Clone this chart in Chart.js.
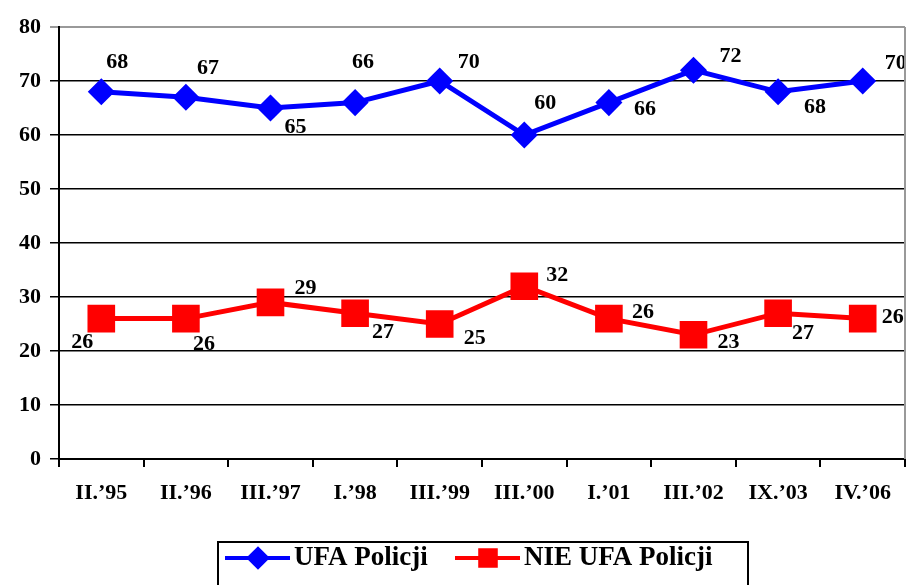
<!DOCTYPE html>
<html>
<head>
<meta charset="utf-8">
<script src="https://cdn.jsdelivr.net/npm/chart.js@4"></script>
<style>
    html, body { margin: 0; background: #fff; overflow: hidden; }
    #wrap { width: 909px; height: 585px; position: relative; }
    canvas { display: block; }
</style>
</head>
<body>
<div id="wrap"><canvas id="myChart"></canvas></div>
<script>
// Data

const periods = ["II.’95", "II.’96", "III.’97", "I.’98", "III.’99", "III.’00", "I.’01", "III.’02", "IX.’03", "IV.’06"];
const seriesNames = ["UFA Policji", "NIE UFA Policji"];
const ufa = [68, 67, 65, 66, 70, 60, 66, 72, 68, 70];
const nieUfa = [26, 26, 29, 27, 25, 32, 26, 23, 27, 26];
const yTicks = [0, 10, 20, 30, 40, 50, 60, 70, 80];

// label offsets from each point (pixels), like the hand-placed labels in the original
const ufaLabelOffsets = [[16, -29], [22, -29], [25, 19], [8, -40], [29, -19], [21, -32], [36, 7], [37, -14], [37, 16], [33, -18]];
const nieLabelOffsets = [[-19, 24], [18, 26], [35, -14], [28, 19], [35, 14], [33, -11], [34, -6], [35, 8], [25, 20], [30, -1]];

const serif = "'Liberation Serif', 'Times New Roman', serif";

// Plugins

const pointLabels = {
    id: "pointLabels",
    afterDatasetsDraw(chart) {
        const ctx = chart.ctx;
        ctx.save();
        ctx.font = "bold 22px " + serif;
        ctx.fillStyle = "#000";
        ctx.textAlign = "center";
        ctx.textBaseline = "middle";
        chart.data.datasets.forEach((ds, di) => {
            const meta = chart.getDatasetMeta(di);
            meta.data.forEach((pt, i) => {
                const off = ds.labelOffsets[i];
                ctx.fillText(String(ds.data[i]), pt.x + off[0], pt.y + off[1]);
            });
        });
        ctx.restore();
    }
};

const frameAndLegend = {
    id: "frameAndLegend",
    afterDraw(chart) {
        const ctx = chart.ctx;
        const area = chart.chartArea;
        ctx.save();

        // right border of the plot
        ctx.strokeStyle = "#999";
        ctx.lineWidth = 2;
        ctx.beginPath();
        ctx.moveTo(area.right, area.top);
        ctx.lineTo(area.right, area.bottom);
        ctx.stroke();

        // legend box
        ctx.strokeStyle = "#000";
        ctx.lineWidth = 2;
        ctx.strokeRect(218, 542, 530, 60);

        const items = chart.data.datasets.map((ds) => ({ label: ds.label, color: ds.borderColor, style: ds.pointStyle }));
        const starts = [225, 455];
        const ly = 558;
        items.forEach((it, i) => {
            const x0 = starts[i];
            ctx.strokeStyle = it.color;
            ctx.fillStyle = it.color;
            ctx.lineWidth = 4;
            ctx.beginPath();
            ctx.moveTo(x0, ly);
            ctx.lineTo(x0 + 65, ly);
            ctx.stroke();
            Chart.helpers.drawPoint(ctx, { pointStyle: it.style, radius: it.style === "rect" ? 11 : 9, rotation: 0, borderWidth: 1 }, x0 + 33, ly);
            ctx.fill();
            ctx.fillStyle = "#000";
            ctx.font = "bold 27px " + serif;
            ctx.textAlign = "left";
            ctx.textBaseline = "middle";
            ctx.fillText(it.label, x0 + 69, ly);
        });
        ctx.restore();
    }
};

// Setup

const data = {
    labels: periods,
    datasets: [
        {
            label: seriesNames[0],
            data: ufa,
            labelOffsets: ufaLabelOffsets,
            borderColor: "#0000ff",
            backgroundColor: "#0000ff",
            borderWidth: 5,
            pointStyle: "rectRot",
            pointRadius: 10,
            pointHoverRadius: 10,
            tension: 0
        },
        {
            label: seriesNames[1],
            data: nieUfa,
            labelOffsets: nieLabelOffsets,
            borderColor: "#ff0000",
            backgroundColor: "#ff0000",
            borderWidth: 5,
            pointStyle: "rect",
            pointRadius: 16,
            pointHoverRadius: 16,
            tension: 0
        }
    ]
};

// Config

const config = {
    type: "line",
    data,
    options: {
        responsive: true,
        maintainAspectRatio: false,
        animation: false,
        layout: {
            autoPadding: false,
            padding: { top: 27, right: 4, left: 0, bottom: 66 }
        },
        plugins: {
            legend: { display: false },
            tooltip: { enabled: false }
        },
        scales: {
            x: {
                offset: true,
                afterFit: (scale) => {
                    scale.height = 60;
                },
                grid: {
                    offset: true,
                    drawOnChartArea: false,
                    tickLength: 8,
                    color: "#000",
                    lineWidth: 2
                },
                border: { color: "#000", width: 2 },
                ticks: {
                    color: "#000",
                    padding: 13,
                    maxRotation: 0,
                    autoSkip: false,
                    font: { family: serif, size: 22, weight: "bold" }
                }
            },
            y: {
                min: 0,
                max: 80,
                afterFit: (scale) => { scale.width = 59; },
                afterBuildTicks: (scale) => { scale.ticks = yTicks.map((v) => ({ value: v })); },
                grid: {
                    tickLength: 9,
                    color: (c) => (c.tick && c.tick.value === 80 ? "#999" : "#000"),
                    lineWidth: (c) => (c.tick && c.tick.value === 80 ? 2 : 1.5)
                },
                border: { color: "#000", width: 2 },
                ticks: {
                    color: "#000",
                    padding: 9,
                    font: { family: serif, size: 22, weight: "bold" }
                }
            }
        }
    },
    plugins: [pointLabels, frameAndLegend]
};

// Render init block

const myChart = new Chart(document.getElementById("myChart"), config);
</script>
</body>
</html>
